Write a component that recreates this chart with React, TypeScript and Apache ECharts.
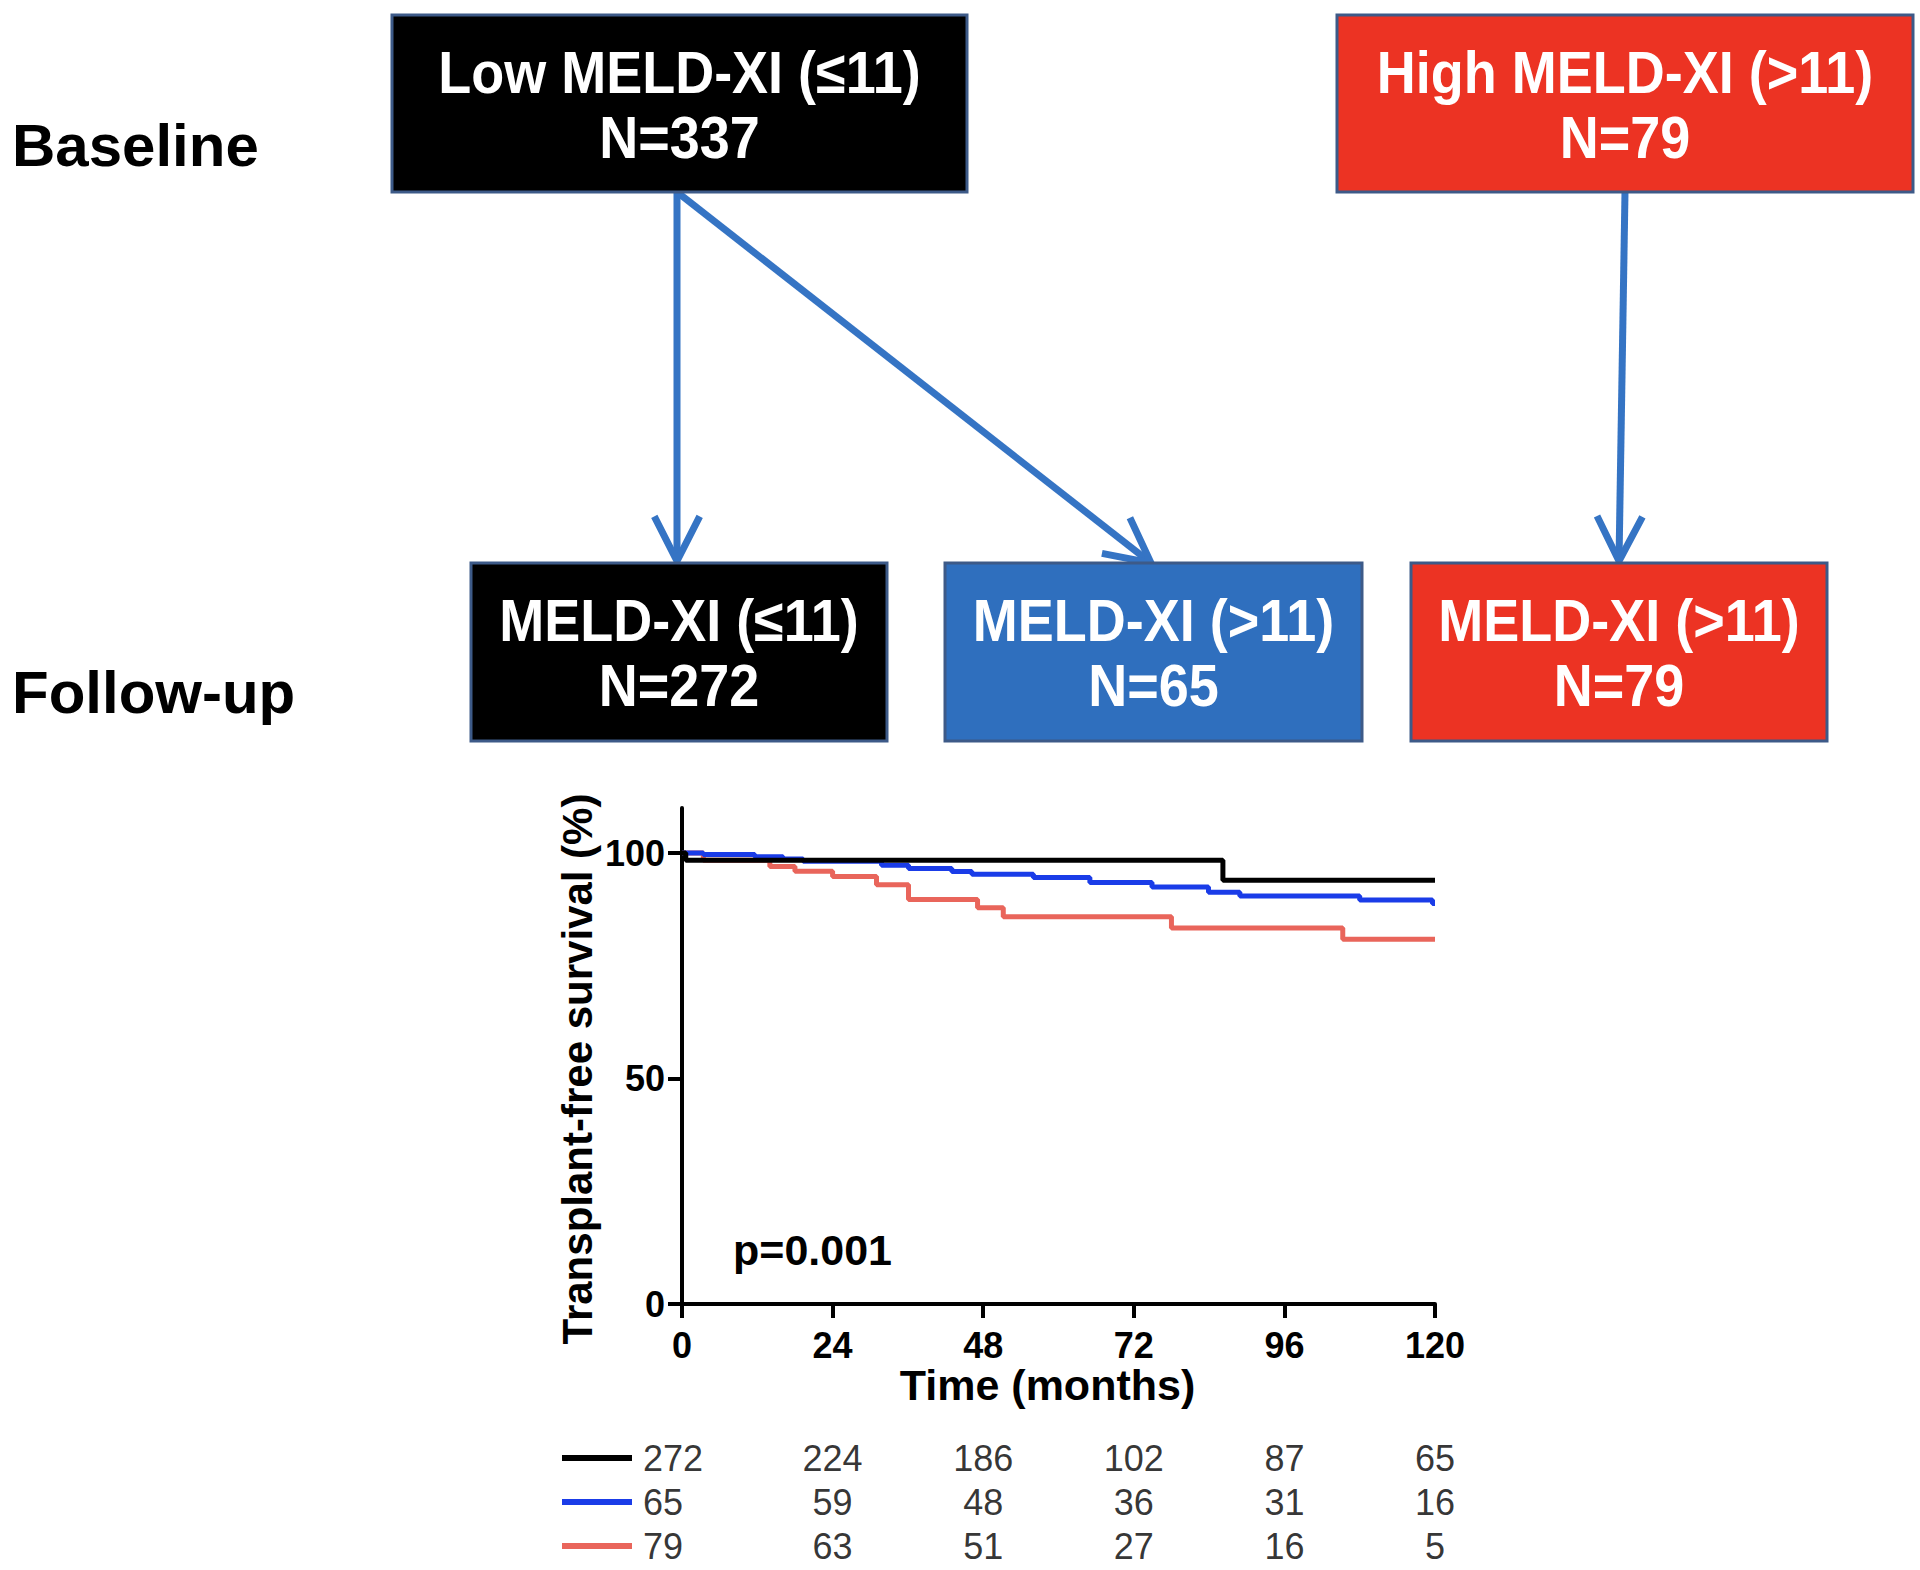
import React, { useEffect, useRef } from "react";
import * as echarts from "echarts";

// ---------- data ----------
const monthTicks = [0, 24, 48, 72, 96, 120];
const yTicks = [0, 50, 100];

const seriesNames = ["Low → MELD-XI (≤11)", "Low → MELD-XI (>11)", "High MELD-XI (>11)"];
const seriesColors = ["#000000", "#1a3ce8", "#e9655b"];

// Kaplan–Meier steps [month, survival %]
const curveLowLow: [number, number][] = [
  [0, 100], [0.6, 98.4], [86.2, 94.0], [120, 94.0],
];
const curveLowHigh: [number, number][] = [
  [0, 100], [3.4, 99.7], [11.6, 99.2], [16.1, 98.7], [19.3, 98.2], [31.8, 97.3],
  [36.1, 96.6], [43.0, 95.9], [46.2, 95.3], [56.0, 94.6], [65.0, 93.5], [74.9, 92.5],
  [83.9, 91.3], [88.9, 90.5], [108.0, 89.6], [119.6, 88.8], [120, 88.8],
];
const curveHigh: [number, number][] = [
  [0, 100], [3.4, 98.4], [14.0, 97.0], [18.0, 96.0], [24.0, 94.8], [31.0, 93.0],
  [36.1, 89.7], [47.1, 87.9], [51.2, 85.9], [78.0, 83.4], [105.3, 80.9], [120, 80.9],
];

// numbers at risk
const atRiskLowLow = [272, 224, 186, 102, 87, 65];
const atRiskLowHigh = [65, 59, 48, 36, 31, 16];
const atRiskHigh = [79, 63, 51, 27, 16, 5];

const pValueText = "p=0.001";
const rowLabels = ["Baseline", "Follow-up"];
const baselineTitles = ["Low MELD-XI (≤11)", "High MELD-XI (>11)"];
const baselineNs = [337, 79];
const followTitles = ["MELD-XI (≤11)", "MELD-XI (>11)", "MELD-XI (>11)"];
const followNs = [272, 65, 79];

// ---------- layout / style ----------
const FONT = '"Liberation Sans", Arial, Helvetica, sans-serif';
const BORDER = "#3d5a88";
const ARROW = "#3574c4";
const boxFills = { black: "#000000", red: "#ec3323", blue: "#2f6fbe" };

const baselineBoxes = [
  { x: 392, y: 15, w: 575, h: 177, fill: boxFills.black },
  { x: 1337, y: 15, w: 576, h: 177, fill: boxFills.red },
];
const followBoxes = [
  { x: 471, y: 563, w: 416, h: 178, fill: boxFills.black },
  { x: 945, y: 563, w: 417, h: 178, fill: boxFills.blue },
  { x: 1411, y: 563, w: 416, h: 178, fill: boxFills.red },
];
const arrows = [
  { from: [677, 192], to: [677, 561] },
  { from: [677, 192], to: [1151, 563] },
  { from: [1625, 192], to: [1619, 561] },
];

function boxElements(b: any, title: string, n: number) {
  const cx = b.x + b.w / 2;
  const cy = b.y + b.h / 2;
  const txt = (s: string, y: number) => ({
    type: "text",
    x: cx,
    y,
    scaleY: 1.1,
    z: 20,
    style: {
      text: s,
      fill: "#ffffff",
      fontSize: 54,
      fontWeight: "bold",
      fontFamily: FONT,
      align: "center",
      verticalAlign: "middle",
      textAlign: "center",
      textVerticalAlign: "middle",
    },
  });
  return [
    {
      type: "rect",
      z: 10,
      shape: { x: b.x, y: b.y, width: b.w, height: b.h },
      style: { fill: b.fill, stroke: BORDER, lineWidth: 3 },
    },
    txt(title, cy - 31),
    txt("N=" + n, cy + 34),
  ];
}

function arrowElements(a: any) {
  const [x1, y1] = a.from;
  const [x2, y2] = a.to;
  const len = Math.hypot(x2 - x1, y2 - y1);
  const dx = (x2 - x1) / len;
  const dy = (y2 - y1) / len;
  const L = 50;
  const ang = (27 * Math.PI) / 180;
  const bx = x2 - dx * L * Math.cos(ang);
  const by = y2 - dy * L * Math.cos(ang);
  const px = -dy * L * Math.sin(ang);
  const py = dx * L * Math.sin(ang);
  return [
    {
      type: "line",
      z: 5,
      shape: { x1, y1, x2, y2 },
      style: { stroke: ARROW, lineWidth: 7 },
    },
    {
      type: "polyline",
      z: 5,
      shape: { points: [[bx + px, by + py], [x2, y2], [bx - px, by - py]] },
      style: { stroke: ARROW, lineWidth: 7, fill: null, lineJoin: "miter" },
    },
  ];
}

function plainText(s: string, x: number, y: number, size: number, align = "left") {
  return {
    type: "text",
    x,
    y,
    z: 20,
    style: {
      text: s,
      fill: "#000000",
      fontSize: size,
      fontWeight: "bold",
      fontFamily: FONT,
      align,
      verticalAlign: "middle",
      textAlign: align,
      textVerticalAlign: "middle",
    },
  };
}

export default function App() {
  const ref = useRef<HTMLDivElement>(null);

  useEffect(() => {
    document.body.style.margin = "0";
    if (!ref.current) return;
    const chart = echarts.init(ref.current, undefined, { renderer: "svg" });

    const curves = [curveLowLow, curveLowHigh, curveHigh];
    const atRisk = [atRiskLowLow, atRiskLowHigh, atRiskHigh];

    const kmSeries = curves.map((c, i) => ({
      name: seriesNames[i],
      type: "line",
      step: "end",
      xAxisIndex: 0,
      yAxisIndex: 0,
      showSymbol: false,
      symbol: "none",
      z: 3 + (2 - i),
      lineStyle: { color: seriesColors[i], width: 5 },
      itemStyle: { color: seriesColors[i] },
      data: c,
    }));

    const riskSeries = atRisk.map((row, r) => ({
      name: seriesNames[r] + " at risk",
      type: "scatter",
      xAxisIndex: 1,
      yAxisIndex: 1,
      symbolSize: 0,
      itemStyle: { color: "transparent" },
      label: {
        show: true,
        position: "inside",
        color: "#000000",
        fontSize: 36,
        fontFamily: FONT,
        formatter: (p: any) => String(row[p.dataIndex]),
      },
      data: monthTicks.map((m, i) =>
        i === 0
          ? { value: [m, r], label: { align: "left", offset: [-39, 0] } }
          : { value: [m, r] }
      ),
    }));

    const legendKeys = [1458, 1502, 1546].map((y, i) => ({
      type: "line",
      shape: { x1: 562, y1: y, x2: 632, y2: y },
      style: { stroke: seriesColors[i], lineWidth: 6 },
    }));

    const graphics: any[] = [
      plainText(rowLabels[0], 12, 145, 60),
      plainText(rowLabels[1], 12, 692, 60),
      plainText(pValueText, 733, 1250, 43),
      ...legendKeys,
    ];
    arrows.forEach((a) => graphics.push(...arrowElements(a)));
    baselineBoxes.forEach((b, i) => graphics.push(...boxElements(b, baselineTitles[i], baselineNs[i])));
    followBoxes.forEach((b, i) => graphics.push(...boxElements(b, followTitles[i], followNs[i])));

    chart.setOption({
      animation: false,
      backgroundColor: "#ffffff",
      textStyle: { fontFamily: FONT },
      grid: [
        { left: 682, top: 808, width: 753, height: 496 },
        { left: 682, top: 1436, width: 753, height: 132 },
      ],
      xAxis: [
        {
          type: "value",
          gridIndex: 0,
          min: 0,
          max: 120,
          interval: 24,
          name: "Time (months)",
          nameLocation: "middle",
          nameGap: 59,
          nameTextStyle: {
            fontSize: 43, fontWeight: "bold", color: "#000", fontFamily: FONT,
            padding: [0, 22, 0, 0],
          },
          axisLine: { show: true, lineStyle: { color: "#000", width: 4 } },
          axisTick: { show: true, length: 14, lineStyle: { color: "#000", width: 4 } },
          axisLabel: { fontSize: 36, fontWeight: "bold", color: "#000", margin: 23, fontFamily: FONT },
          splitLine: { show: false },
        },
        {
          type: "value",
          gridIndex: 1,
          min: 0,
          max: 120,
          interval: 24,
          show: false,
        },
      ],
      yAxis: [
        {
          type: "value",
          gridIndex: 0,
          min: 0,
          max: 110,
          interval: 50,
          name: "Transplant-free survival (%)",
          nameLocation: "middle",
          nameRotate: 90,
          nameGap: 84,
          nameTextStyle: {
            fontSize: 42, fontWeight: "bold", color: "#000", fontFamily: FONT,
            padding: [0, 26, 0, 0],
          },
          axisLine: { show: true, lineStyle: { color: "#000", width: 4 } },
          axisTick: { show: true, length: 14, customValues: yTicks, lineStyle: { color: "#000", width: 4 } },
          axisLabel: { fontSize: 36, fontWeight: "bold", color: "#000", margin: 17, customValues: yTicks, fontFamily: FONT },
          splitLine: { show: false },
        },
        {
          type: "category",
          gridIndex: 1,
          data: ["0", "1", "2"],
          inverse: true,
          show: false,
        },
      ],
      series: [...kmSeries, ...riskSeries],
      graphic: { elements: graphics },
    });

    return () => chart.dispose();
  }, []);

  return <div ref={ref} style={{ width: 1920, height: 1570 }} />;
}
